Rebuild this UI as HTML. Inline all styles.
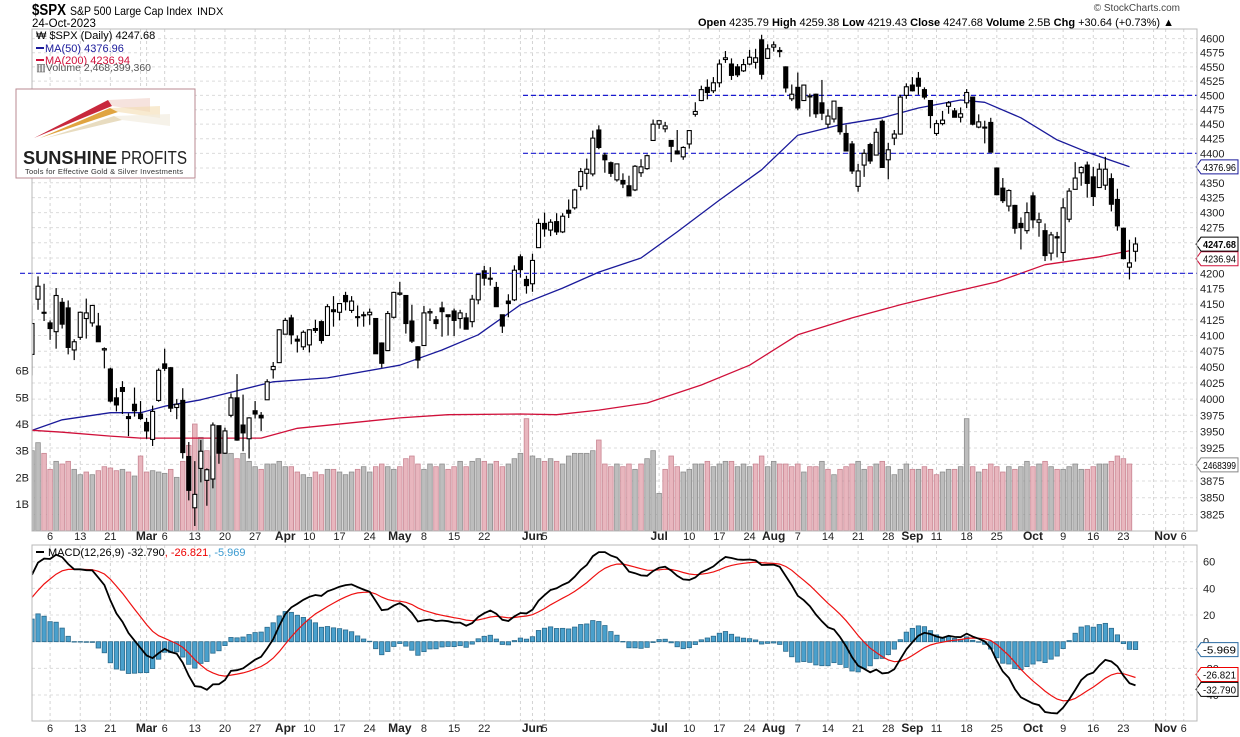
<!DOCTYPE html>
<html><head><meta charset="utf-8"><title>$SPX S&P 500 Large Cap Index</title>
<style>
html,body{margin:0;padding:0;background:#fff;}
svg{display:block;font-family:"Liberation Sans",sans-serif;}
</style></head>
<body>
<svg id="chart" width="1240" height="737" viewBox="0 0 1240 737">
  <rect x="0" y="0" width="1240" height="737" fill="#fff"/>
  <g>
    <text x="32" y="15" font-size="16" font-weight="bold" textLength="34" lengthAdjust="spacingAndGlyphs">$SPX</text>
    <text x="70" y="15" font-size="12" textLength="122" lengthAdjust="spacingAndGlyphs">S&amp;P 500 Large Cap Index</text>
    <text x="197" y="15" font-size="11">INDX</text>
    <text x="32" y="27" font-size="11.5">24-Oct-2023</text>
    <text x="1180" y="11" font-size="10" text-anchor="end" fill="#444">© StockCharts.com</text>
    <text x="1174" y="26" font-size="11" text-anchor="end"><tspan font-weight="bold">Open</tspan> 4235.79 <tspan font-weight="bold">High</tspan> 4259.38 <tspan font-weight="bold">Low</tspan> 4219.43 <tspan font-weight="bold">Close</tspan> 4247.68 <tspan font-weight="bold">Volume</tspan> 2.5B <tspan font-weight="bold">Chg</tspan> +30.64 (+0.73%) ▲</text>
  </g>
  <g id="grid"></g>
  <g id="marks"></g>
  <rect x="32" y="29" width="1165" height="502" fill="none" stroke="#b8b8b8"/>
  <rect x="32" y="545" width="1165" height="176" fill="none" stroke="#b8b8b8"/>
  <g font-size="11">
    <text x="36" y="39">₩ $SPX (Daily) 4247.68</text>
    <line x1="36" y1="48" x2="44" y2="48" stroke="#1a1a9a" stroke-width="2"/>
    <text x="45" y="52" fill="#1a1a9a">MA(50) 4376.96</text>
    <line x1="36" y1="60" x2="44" y2="60" stroke="#d0103a" stroke-width="2"/>
    <text x="45" y="64" fill="#d0103a">MA(200) 4236.94</text>
    <text x="36" y="71" fill="#555" font-size="10.5">▥Volume 2,468,399,360</text>
  </g>
  <g>
    <rect x="16" y="89" width="179" height="89" fill="#fff" stroke="#b88a92" stroke-width="1"/>
    <polygon points="34,138 108,100 112,106" fill="#c8283c"/>
    <polygon points="40,138 110,108 118,112" fill="#e0a440"/>
    <polygon points="46,138 114,116 122,120" fill="#e8dcc0"/>
    <polygon points="108,100 150,98 150,112 112,106" fill="#f0d0c8" opacity="0.6"/>
    <polygon points="110,108 160,106 160,118 118,112" fill="#f4dcb0" opacity="0.6"/>
    <polygon points="114,116 170,114 170,126 122,120" fill="#f2ece0" opacity="0.7"/>
    <text x="23" y="164" font-size="18" font-weight="bold" fill="#222" textLength="94" lengthAdjust="spacingAndGlyphs">SUNSHINE</text>
    <text x="121" y="164" font-size="18" fill="#222" textLength="66" lengthAdjust="spacingAndGlyphs">PROFITS</text>
    <text x="25" y="174" font-size="7.5" fill="#333" textLength="158">Tools for Effective Gold &amp; Silver Investments</text>
  </g>
  <g font-size="11">
    <line x1="36" y1="552" x2="44" y2="552" stroke="#000" stroke-width="2"/>
    <text x="48" y="556">MACD(12,26,9) -32.790<tspan fill="#e00">, -26.821</tspan><tspan fill="#3a9ad0">, -5.969</tspan></text>
  </g>
</svg>
<script>
const opens=[4070,4158,4137,4120,4106,4153,4144,4077,4097,4127,4120,4115,4077,4047,4002,4018,3973,3992,3977,
3964,3938,3998,4055,4049,3987,3998,3912,3835,3894,3876,3878,3959,3917,3975,4002,3960,3939,3982,3975,3999,4046,4057,
4102,4128,4094,4082,4085,4111,4122,4100,4141,4137,4164,4140,4130,4133,4133,4127,4088,4076,4129,
4166,4164,4123,4082,4084,4136,4125,4144,4133,4139,4127,4128,4122,4157,4204,4191,4177,4133,4155,4157,4227,4190,
4183,4242,4282,4271,4285,4268,4304,4308,4344,4366,4365,4440,4397,4384,4355,4354,4345,4338,4367,4374,4422,
4450,4442,4422,4404,4394,4416,4467,4491,4514,4508,4522,4563,4555,4550,4543,4555,4558,4598,4565,4585,
4579,4550,4494,4514,4491,4498,4502,4487,4450,4459,4479,4434,4416,4344,4380,4415,4397,4455,4389,4426,4433,4500,4518,
4530,4510,4491,4434,4451,4481,4473,4462,4487,4497,4445,4445,4453,4375,4341,4311,4312,4282,4270,4328,
4284,4270,4233,4260,4234,4289,4339,4367,4380,4360,4342,4346,4357,4322,4274,4210,4236];
const highs=[4148,4195,4183,4124,4176,4160,4156,4094,4138,4159,4148,4136,4081,4049,4017,4028,3978,4018,3997,
3971,3990,4048,4079,4050,4000,4017,3934,3905,3937,3894,3964,3959,3956,4009,4039,4007,3972,3997,3980,4031,4058,4110,
4128,4133,4100,4108,4110,4125,4124,4150,4163,4152,4170,4163,4148,4138,4143,4127,4089,4139,4170,
4186,4164,4149,4083,4147,4143,4131,4154,4133,4143,4141,4136,4165,4199,4212,4210,4186,4133,4166,4213,4231,4196,
4232,4290,4300,4289,4299,4299,4322,4340,4375,4391,4439,4448,4401,4386,4382,4366,4362,4380,4390,4398,4458,
4456,4454,4422,4440,4412,4440,4488,4517,4528,4532,4563,4578,4565,4555,4564,4580,4582,4607,4590,4595,
4585,4551,4519,4540,4519,4503,4503,4527,4476,4490,4479,4449,4421,4382,4407,4418,4443,4458,4418,4440,4501,4521,4532,
4541,4514,4491,4457,4473,4490,4478,4479,4511,4497,4467,4456,4461,4376,4358,4339,4313,4292,4317,4334,
4300,4282,4268,4268,4324,4341,4385,4378,4386,4377,4383,4394,4366,4340,4275,4255,4259];
const lows=[4037,4141,4123,4093,4079,4111,4070,4061,4093,4095,4114,4090,4048,3995,3981,3977,3943,3973,3968,
3939,3928,3996,4044,3980,3969,3909,3846,3808,3873,3838,3864,3901,3916,3972,3936,3920,3909,3970,3951,3999,4032,4057,
4102,4086,4073,4077,4073,4104,4087,4100,4114,4124,4140,4136,4114,4114,4117,4071,4049,4076,4127,
4164,4103,4088,4048,4084,4123,4110,4098,4100,4099,4111,4110,4113,4150,4180,4180,4146,4104,4129,4155,4193,4167,
4170,4242,4260,4261,4263,4266,4291,4305,4337,4339,4361,4407,4367,4360,4352,4341,4328,4336,4360,4372,4422,
4442,4436,4385,4398,4389,4408,4463,4490,4493,4504,4514,4557,4527,4532,4541,4553,4547,4528,4564,4577,
4567,4505,4490,4474,4491,4463,4461,4457,4443,4453,4432,4404,4365,4335,4360,4382,4397,4375,4356,4414,4432,4494,4507,
4501,4493,4443,4430,4448,4468,4462,4453,4478,4448,4443,4417,4402,4329,4316,4302,4265,4239,4265,4274,
4260,4220,4221,4226,4220,4284,4339,4345,4325,4311,4342,4338,4302,4270,4223,4190,4219];
const closes=[4119,4179,4136,4111,4164,4118,4081,4090,4137,4136,4148,4090,4079,3997,3991,4012,3970,3982,3970,
3951,3981,4045,4048,3986,3992,3918,3861,3855,3920,3892,3960,3917,3951,4002,3937,3948,3971,3977,3971,4027,4051,4109,
4124,4101,4091,4105,4109,4108,4092,4146,4138,4151,4154,4155,4130,4133,4137,4071,4056,4135,4169,
4168,4119,4091,4061,4136,4138,4119,4138,4130,4124,4136,4110,4158,4198,4192,4192,4146,4115,4151,4205,4206,4180,
4221,4282,4273,4284,4268,4294,4299,4338,4369,4373,4426,4410,4389,4366,4382,4348,4328,4378,4377,4396,4450,
4456,4447,4412,4399,4410,4439,4472,4510,4505,4522,4555,4566,4535,4536,4554,4567,4566,4537,4582,4589,
4577,4513,4502,4478,4518,4499,4468,4469,4464,4490,4437,4404,4370,4370,4400,4387,4436,4376,4406,4433,4497,4515,4508,
4516,4497,4465,4451,4457,4487,4462,4468,4505,4450,4454,4444,4402,4330,4320,4337,4274,4275,4300,4288,
4288,4229,4263,4258,4308,4336,4358,4376,4349,4327,4373,4373,4314,4278,4224,4217,4248];
const volumesB=[3.0,3.3,2.9,2.3,2.6,2.5,2.6,2.3,2.1,2.2,2.1,2.25,2.4,2.35,2.25,2.3,2.2,2.05,2.8,
2.2,2.25,2.2,2.15,2.3,2.0,2.6,3.2,4.0,3.5,3.0,2.8,3.3,3.6,2.9,2.7,2.9,2.6,2.4,2.3,2.5,2.5,2.6,
2.4,2.4,2.2,2.1,2.0,2.2,2.1,2.3,2.3,2.2,2.1,2.2,2.3,2.4,2.2,2.4,2.5,2.4,2.3,
2.4,2.7,2.8,2.5,2.3,2.5,2.4,2.5,2.3,2.4,2.6,2.4,2.6,2.7,2.6,2.5,2.6,2.4,2.5,2.7,2.9,4.2,
2.8,2.7,2.6,2.7,2.6,2.5,2.8,2.9,2.9,2.9,3.0,3.4,2.5,2.4,2.5,2.4,2.5,2.3,2.5,2.7,3.0,
1.4,2.3,2.8,2.4,2.2,2.3,2.5,2.5,2.6,2.4,2.5,2.6,2.6,2.4,2.5,2.4,2.5,2.8,2.4,
2.6,2.5,2.5,2.4,2.5,2.2,2.4,2.4,2.6,2.3,2.1,2.3,2.4,2.5,2.6,2.3,2.4,2.5,2.6,2.4,2.1,2.3,2.5,
2.3,2.3,2.4,2.3,2.1,2.2,2.3,2.3,2.4,4.2,2.4,2.2,2.3,2.5,2.4,2.2,2.4,2.3,2.4,2.6,
2.4,2.5,2.6,2.4,2.3,2.3,2.4,2.5,2.3,2.3,2.4,2.5,2.5,2.6,2.8,2.7,2.5];
const ma50Days=[0,5,13,18,22,28,40,49,61,68,74,81,88,94,101,107,114,121,127,134,141,147,154,158,164,170,175,182];
const ma50Vals=[3952,3968,3979,3979,3989,3999,4027,4033,4053,4077,4101,4149,4176,4202,4225,4268,4321,4372,4431,4449,4461,4478,4492,4488,4461,4423,4402,4377];
const ma200Days=[0,5,13,18,28,38,44,61,69,81,87,94,102,111,119,127,136,144,152,160,168,177,182];
const ma200Vals=[3952,3949,3943,3940,3940,3940,3955,3971,3976,3977,3976,3983,3994,4022,4053,4101,4128,4149,4168,4186,4214,4227,4237];
const macdSeeds=[4000,3956,29];
const priceTicks=[4600,4575,4550,4525,4500,4475,4450,4425,4400,4375,4350,4325,4300,4275,4250,4225,4200,4175,4150,4125,4100,4075,4050,4025,4000,3975,3950,3925,3900,3875,3850,3825];
const volTicks=[1,2,3,4,5,6];
const macdTicks=[60,40,20,0,-20,-40];
const lblDays=[3,8,13,19,22,27,32,37,42,46,51,56,61,65,70,75,83,85,104,109,114,119,123,127,132,137,142,146,150,155,160,166,171,176,181,188,191];
const lblTexts=["6","13","21","Mar","6","13","20","27","Apr","10","17","24","May","8","15","22","Jun","5","Jul","10","17","24","Aug","7","14","21","28","Sep","11","18","25","Oct","9","16","23","Nov","6"];
const extraGridDays=[18,60,81,122,145,186];
const levelLines=[4500,4400];

const NS="http://www.w3.org/2000/svg";
const grid=document.getElementById('grid'), marks=document.getElementById('marks');
function mk(tag,attrs,parent){const e=document.createElementNS(NS,tag);for(const k in attrs)e.setAttribute(k,attrs[k]);(parent||marks).appendChild(e);return e;}
const X0=32,DX=6.03;
function xDay(i){return X0+i*DX;}
function yPrice(p){return 273.3-2579*Math.log(p/4200);}
function yVol(v){return 530.7-26.67*v;}
function yMacd(m){return 641.7-m*(80/60);}
const bold=new Set(["Mar","Apr","May","Jun","Jul","Aug","Sep","Oct","Nov"]);

lblDays.concat(extraGridDays).forEach(d=>{
  const x=xDay(d);
  const l1=mk('line',{x1:x,y1:29,x2:x,y2:531,stroke:'#d4d4d4','stroke-dasharray':'3,3'},grid);
  
  
  const l2=mk('line',{x1:x,y1:545,x2:x,y2:721,stroke:'#d4d4d4','stroke-dasharray':'3,3'},grid);
  
  
});
priceTicks.forEach(p=>{
  const y=yPrice(p);
  const l=mk('line',{x1:32,y1:y,x2:1197,y2:y,stroke:'#dcdcdc','stroke-dasharray':'3,3'},grid);
  
  
  const t=mk('text',{x:1200,y:y+4,'font-size':11,fill:'#222'},grid);
  t.textContent=p;
  
  
});
volTicks.forEach(v=>{
  const t=mk('text',{x:29,y:yVol(v)+4,'font-size':11,'text-anchor':'end',fill:'#222'},grid);
  t.textContent=v+'B';
  
  
});
macdTicks.forEach(m=>{
  const y=yMacd(m);
  const l=mk('line',{x1:32,y1:y,x2:1197,y2:y,stroke:'#dcdcdc','stroke-dasharray':'3,3'},grid);
  
  
  const t=mk('text',{x:1203,y:y+4,'font-size':11,fill:'#222'},grid);
  t.textContent=m;
  
  
});
lblDays.forEach((d,k)=>{
  const txt=lblTexts[k];
  [540,732].forEach(y=>{
    const t=mk('text',{x:xDay(d),y:y,'font-size':bold.has(txt)?12:11,'font-weight':bold.has(txt)?'bold':'normal','text-anchor':'middle',fill:'#222'},grid);
    t.textContent=txt;
    
    
  });
});

const defs=mk('defs',{});
const cp=mk('clipPath',{id:'clipMain'},defs);
mk('rect',{x:32.5,y:29.5,width:1164,height:501},cp);
const cp2=mk('clipPath',{id:'clipMacd'},defs);
mk('rect',{x:32.5,y:545.5,width:1164,height:175},cp2);
const gMain=mk('g',{'clip-path':'url(#clipMain)'});



volumesB.forEach((v,i)=>{
  const down=i>0&&closes[i]<closes[i-1];
  const r=mk('rect',{x:xDay(i)-2.3,y:yVol(v),width:4.6,height:530.7-yVol(v),fill:down?'#e8b6be':'#bdbdbd',stroke:down?'#c98592':'#8e8e8e','stroke-width':0.8},gMain);
  
  
});
const l42=mk('line',{x1:20,y1:yPrice(4200),x2:1197,y2:yPrice(4200),stroke:'#1a1ad0','stroke-width':1.2,'stroke-dasharray':'5,3'});


levelLines.forEach(p=>{
  const l=mk('line',{x1:523,y1:yPrice(p),x2:1197,y2:yPrice(p),stroke:'#1a1ad0','stroke-width':1.2,'stroke-dasharray':'5,3'},gMain);
  
  
});
function interp(days,vals){let s='';days.forEach((d,k)=>{s+=(k?'L':'M')+xDay(d).toFixed(1)+','+yPrice(vals[k]).toFixed(1);});return s;}
const m50=mk('path',{d:interp(ma50Days,ma50Vals),fill:'none',stroke:'#1a1a9a','stroke-width':1.3,'stroke-linejoin':'round'},gMain);


const m200=mk('path',{d:interp(ma200Days,ma200Vals),fill:'none',stroke:'#d0103a','stroke-width':1.3,'stroke-linejoin':'round'},gMain);


closes.forEach((c,i)=>{
  const x=xDay(i),o=opens[i];
  const g=mk('g',{},gMain);
  
  
  const top=yPrice(Math.max(o,c)),bot=yPrice(Math.min(o,c));
  mk('line',{x1:x,y1:yPrice(highs[i]),x2:x,y2:top,stroke:'#000','stroke-width':1.2},g);
  mk('line',{x1:x,y1:bot,x2:x,y2:yPrice(lows[i]),stroke:'#000','stroke-width':1.2},g);
  mk('rect',{x:x-2,y:top,width:4,height:Math.max(bot-top,1),fill:c>=o?'#fff':'#000',stroke:'#000','stroke-width':1.1},g);
});

let e12=macdSeeds[0],e26=macdSeeds[1],sig=macdSeeds[2];
const macd=[],signal=[];
closes.forEach(c=>{e12+=(c-e12)*2/13; e26+=(c-e26)*2/27; const m=e12-e26; sig+=(m-sig)*0.2; macd.push(m); signal.push(sig);});
const gM=mk('g',{'clip-path':'url(#clipMacd)'});


macd.forEach((m,i)=>{
  const h=m-signal[i];
  const y0=yMacd(0),y1=yMacd(h);
  const r=mk('rect',{x:xDay(i)-2.2,y:Math.min(y0,y1),width:4.4,height:Math.max(Math.abs(y1-y0),0.5),fill:'#4aa0cc',stroke:'#2a6a8c','stroke-width':0.8},gM);
  
  
});
function line(arr){return arr.map((v,i)=>(i?'L':'M')+xDay(i).toFixed(1)+','+yMacd(v).toFixed(1)).join('');}
const sl=mk('path',{d:line(signal),fill:'none',stroke:'#ee1111','stroke-width':1.2},gM);


const ml=mk('path',{d:line(macd),fill:'none',stroke:'#000','stroke-width':1.8},gM);



function tag(y,txt,col,b,name){
  const g=mk('g',{});
  
  
  mk('path',{d:`M1196,${y} L1201,${y-7} L1238,${y-7} L1238,${y+7} L1201,${y+7} Z`,fill:'#fff',stroke:col,'stroke-width':1},g);
  const t=mk('text',{x:1203,y:y+4,'font-size':10.5,'font-weight':b?'bold':'normal',fill:'#000',textLength:33,lengthAdjust:'spacingAndGlyphs'},g);
  t.textContent=txt;
}
tag(yPrice(4236.94)+8,'4236.94','#d0103a',false,'ma200-value-tag');
tag(yPrice(4376.96),'4376.96','#1a1a9a',false,'ma50-value-tag');
tag(yPrice(4247.68),'4247.68','#000',true,'close-value-tag');
tag(yVol(2.468),'2468399','#888',false,'volume-value-tag');
tag(yMacd(-5.969),'-5.969','#2a6aa0',false,'histogram-value-tag');
tag(yMacd(-26.821)-3,'-26.821','#e00',false,'signal-value-tag');
tag(yMacd(-32.790)+4,'-32.790','#000',false,'macd-value-tag');
</script>
</body></html>
